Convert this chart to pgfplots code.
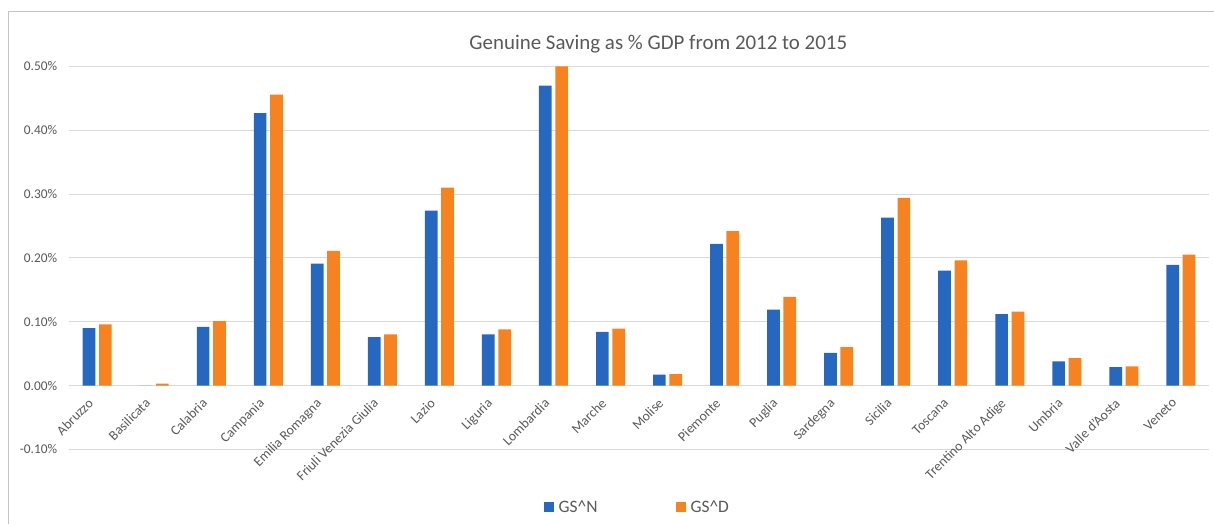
\documentclass[border=0pt]{standalone}
\usepackage{pgfplots}
\pgfplotsset{compat=1.18}
\usepackage{pgfplotstable}
\usepackage{fontspec}
\setmainfont{Carlito}

\definecolor{gsnblue}{RGB}{38,104,192}
\definecolor{gsdorange}{RGB}{246,130,32}
\definecolor{labelgray}{RGB}{89,89,89}
\definecolor{gridgray}{RGB}{217,217,217}
\definecolor{framegray}{RGB}{196,196,196}

% Genuine saving as % of GDP, 2012-2015, by region
\pgfplotstableread{
idx gsn gsd
0 0.090 0.096
1 0.000 0.003
2 0.092 0.101
3 0.427 0.456
4 0.191 0.211
5 0.076 0.080
6 0.274 0.310
7 0.080 0.088
8 0.470 0.500
9 0.084 0.089
10 0.017 0.018
11 0.222 0.242
12 0.119 0.139
13 0.051 0.060
14 0.263 0.294
15 0.180 0.196
16 0.112 0.116
17 0.038 0.043
18 0.029 0.030
19 0.189 0.205
}\gsdata

\pgfplotsset{
  sqlegend/.style={legend image code/.code={\fill[##1] (0bp,-5bp) rectangle (10bp,5bp);}},
}

\begin{document}
\begin{tikzpicture}[x=1bp,y=1bp]
\begin{axis}[
  scale only axis, width=1141.1bp, height=383bp,
  xmin=-0.5, xmax=19.5, ymin=-0.1, ymax=0.5,
  axis line style={draw=none},
  major tick length=0pt,
  ymajorgrids, grid style={gridgray, line width=1bp},
  ytick={-0.1,0,0.1,0.2,0.3,0.4,0.5},
  yticklabels={-0.10\%,0.00\%,0.10\%,0.20\%,0.30\%,0.40\%,0.50\%},
  yticklabel style={font=\fontsize{13.4}{16}\selectfont, text=labelgray, xshift=-8bp},
  xtick={0,...,19},
  xticklabels={Abruzzo,Basilicata,Calabria,Campania,Emilia Romagna,Friuli Venezia Giulia,Lazio,Liguria,Lombardia,Marche,Molise,Piemonte,Puglia,Sardegna,Sicilia,Toscana,Trentino Alto Adige,Umbria,Valle d'Aosta,Veneto},
  % category names hang from the 0% line
  xticklabel style={xshift=-10bp, yshift=56.8bp, rotate=45, anchor=north east,
    font=\fontsize{13.8}{16}\selectfont, text=labelgray},
  legend columns=2,
  legend style={at={(0.414,-0.151)}, anchor=west, draw=none, fill=none,
    font=\fontsize{17.5}{20}\selectfont, text=labelgray,
    /tikz/every even column/.append style={column sep=74bp},
    nodes={inner xsep=4.5bp}},
  clip=false,
]
\addplot[ybar, bar width=0.2225, bar shift=-0.143, fill=gsnblue, draw=none, sqlegend]
  table[x=idx, y=gsn] {\gsdata};
\addlegendentry{GS\textasciicircum N}
\addplot[ybar, bar width=0.2225, bar shift=0.143, fill=gsdorange, draw=none, sqlegend]
  table[x=idx, y=gsd] {\gsdata};
\addlegendentry{GS\textasciicircum D}
\coordinate (plotLL) at (rel axis cs:0,0);
\end{axis}
% chart area: frame and title, measured from the lower left corner of the page
\begin{scope}[shift={(plotLL)}, shift={(-68.7,-74.5)}]
  \path (0,0) rectangle (1214,524);
  \draw[framegray, line width=0.8bp] (8,0) -- (8,513) -- (1214,513);
  \node[text=labelgray, font=\fontsize{21}{25}\selectfont] at (658.5,480)
    {Genuine Saving as \% GDP from 2012 to 2015};
\end{scope}
\end{tikzpicture}
\end{document}
